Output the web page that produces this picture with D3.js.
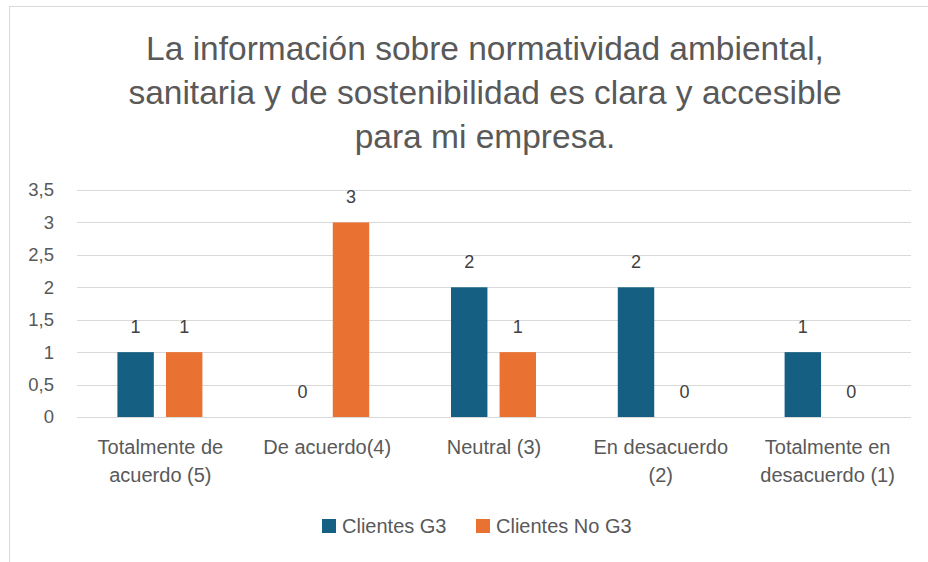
<!DOCTYPE html>
<html>
<head>
<meta charset="utf-8">
<script src="https://cdn.jsdelivr.net/npm/d3@7"></script>
<style>
  body { margin: 0; background: #fff; }
  svg { display: block; font-family: "Liberation Sans", Arial, sans-serif; }
</style>
</head>
<body>
<main></main>
<script>
// data
let titleLines = ["La información sobre normatividad ambiental,",
                  "sanitaria y de sostenibilidad es clara y accesible",
                  "para mi empresa."];
let categories = ["Totalmente de acuerdo (5)", "De acuerdo(4)", "Neutral (3)",
                  "En desacuerdo (2)", "Totalmente en desacuerdo (1)"];
let categoryLines = [["Totalmente de", "acuerdo (5)"], ["De acuerdo(4)"], ["Neutral (3)"],
                     ["En desacuerdo", "(2)"], ["Totalmente en", "desacuerdo (1)"]];
let seriesNames = ["Clientes G3", "Clientes No G3"];
let clientesG3 = [1, 0, 2, 2, 1];
let clientesNoG3 = [1, 3, 1, 0, 0];
let yTicks = [0, 0.5, 1, 1.5, 2, 2.5, 3, 3.5];

let colors = ["#156082", "#E97132"];
let width = 928, height = 562;
let textColor = "#595959";

let svg = d3.select('main')
    .append('svg')
    .attr('width', width)
    .attr('height', height);

// chart frame
svg.append('rect')
    .attr('x', 9.5)
    .attr('y', 6.5)
    .attr('width', 1000)
    .attr('height', 1000)
    .attr('fill', 'white')
    .attr('stroke', '#d9d9d9')
    .attr('stroke-width', 1);

// title
svg.append('text')
    .attr('text-anchor', 'middle')
    .attr('fill', textColor)
    .attr('font-size', 33.5)
    .selectAll('tspan')
    .data(titleLines)
    .join('tspan')
    .attr('x', 485)
    .attr('y', (d, i) => 60 + i * 44)
    .text(d => d);

let plot = {left: 77, right: 911, top: 190, bottom: 417};

let x0 = d3.scaleBand()
    .domain(categories)
    .range([plot.left, plot.right]);

let x1 = d3.scaleBand()
    .domain(seriesNames)
    .range([x0.bandwidth() / 2 - 43, x0.bandwidth() / 2 + 42])
    .paddingInner(0.25);

let y = d3.scaleLinear()
    .domain([0, 3.5])
    .range([plot.bottom, plot.top]);

// gridlines
svg.append('g')
    .selectAll('line')
    .data(yTicks)
    .join('line')
    .attr('x1', plot.left)
    .attr('x2', plot.right)
    .attr('y1', d => Math.round(y(d)) + 0.5)
    .attr('y2', d => Math.round(y(d)) + 0.5)
    .attr('stroke', '#d9d9d9')
    .attr('stroke-width', 1);

// y axis labels
let fmt = d => String(d).replace('.', ',');
let yAxis = svg.append('g')
    .attr('transform', `translate(${plot.left - 23},0)`)
    .call(d3.axisLeft(y).tickValues(yTicks).tickFormat(fmt).tickSize(0).tickPadding(0));
yAxis.select('.domain').remove();
yAxis.selectAll('text')
    .attr('fill', textColor)
    .attr('font-size', 18.5)
    .attr('font-family', null);

// bars
let rows = categories.map((c, i) => ({cat: c, values: [clientesG3[i], clientesNoG3[i]]}));

let groups = svg.append('g')
    .selectAll('g')
    .data(rows)
    .join('g')
    .attr('transform', d => `translate(${x0(d.cat)},0)`);

groups.selectAll('rect')
    .data(d => d.values.map((v, j) => ({name: seriesNames[j], value: v, j: j})))
    .join('rect')
    .attr('x', d => x1(d.name))
    .attr('y', d => y(d.value))
    .attr('width', x1.bandwidth())
    .attr('height', d => y(0) - y(d.value))
    .attr('fill', d => colors[d.j]);

// data labels
groups.selectAll('text')
    .data(d => d.values.map((v, j) => ({name: seriesNames[j], value: v})))
    .join('text')
    .attr('x', d => x1(d.name) + x1.bandwidth() / 2)
    .attr('y', d => y(d.value) - 19.5)
    .attr('text-anchor', 'middle')
    .attr('fill', '#404040')
    .attr('font-size', 18)
    .text(d => d.value);

// category labels
svg.append('g')
    .selectAll('text')
    .data(categories)
    .join('text')
    .attr('text-anchor', 'middle')
    .attr('fill', textColor)
    .attr('font-size', 20)
    .each(function(d, i) {
        d3.select(this).selectAll('tspan')
            .data(categoryLines[i])
            .join('tspan')
            .attr('x', x0(d) + x0.bandwidth() / 2)
            .attr('y', (t, k) => 454 + k * 28)
            .text(t => t);
    });

// legend
let legendX = [322, 476];
let legend = svg.append('g')
    .selectAll('g')
    .data(seriesNames)
    .join('g')
    .attr('transform', (d, i) => `translate(${legendX[i]},519)`);

legend.append('rect')
    .attr('width', 14)
    .attr('height', 14)
    .attr('fill', (d, i) => colors[i]);

legend.append('text')
    .attr('x', 20)
    .attr('y', 14)
    .attr('fill', textColor)
    .attr('font-size', 20)
    .text(d => d);
</script>
</body>
</html>
